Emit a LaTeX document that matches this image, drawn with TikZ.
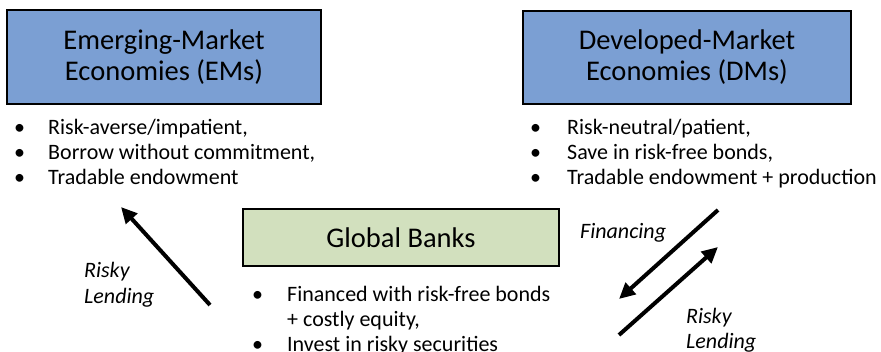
\documentclass[tikz,border=0pt]{standalone}
\usepackage{fontspec}
\setmainfont{Carlito}
\usepackage{tikz}
\usetikzlibrary{arrows.meta}
\usetikzlibrary{calc}
\definecolor{emblue}{RGB}{123,159,211}
\definecolor{gbgreen}{RGB}{210,224,190}
\tikzset{box/.style={draw=black,line width=2pt,inner sep=0pt,align=center,font=\fontsize{28.5}{31}\selectfont}}
\tikzset{lst/.style={anchor=base west,inner sep=0pt,font=\fontsize{22}{25}\selectfont}}
\tikzset{lbl/.style={anchor=west,inner sep=0pt,align=left,font=\fontsize{22}{25.5}\selectfont\itshape}}
\tikzset{flow/.style={line width=4pt,-{Triangle[length=16pt,width=15pt]}}}
\newcommand{\blist}[2]{\begin{tabular}[t]{@{}p{#1}@{}l@{}}#2\end{tabular}}

\begin{document}
\begin{tikzpicture}[x=1pt,y=-1pt]
            \useasboundingbox (0,0) rectangle (881,352);
            \node[box,fill=emblue,minimum width=314pt,minimum height=94pt] (em) at (164,57) {Emerging-Market\\Economies (EMs)};
            \node[box,fill=emblue,minimum width=328pt,minimum height=93pt] (dm) at (687,57.5) {Developed-Market\\Economies (DMs)};
            \node[box,fill=gbgreen,minimum width=316pt,minimum height=57pt] (gb) at (401,237.5) {Global Banks};
            \node[lst] (emlist) at (14,135) {\blist{34pt}{%
              \textbullet & Risk-averse/impatient,\\
              \textbullet & Borrow without commitment,\\
              \textbullet & Tradable endowment}};
            \node[lst] (dmlist) at (530,135) {\blist{37pt}{%
              \textbullet & Risk-neutral/patient,\\
              \textbullet & Save in risk-free bonds,\\
              \textbullet & Tradable endowment + production}};
            \node[lst] (gblist) at (252,302) {\blist{35pt}{%
              \textbullet & Financed with risk-free bonds\\
              & + costly equity,\\
              \textbullet & Invest in risky securities}};
            % arrows
            \coordinate (a1s) at (210,305);
            \coordinate (a1e) at (121,207);
            \coordinate (a2s) at (718,210);
            \coordinate (a2e) at (619,299);
            \coordinate (a3s) at (619,335);
            \coordinate (a3e) at (718,247);
            \draw[flow] (a1s) -- (a1e);
            \draw[flow] (a2s) -- (a2e);
            \draw[flow] (a3s) -- (a3e);
            \node[lbl] (l1) at (84,284.5) {Risky\\Lending};
            \node[lbl] (l2) at (580,233) {Financing};
            \node[lbl] (l3) at (686,330) {Risky\\Lending};
          \end{tikzpicture}
\end{document}
